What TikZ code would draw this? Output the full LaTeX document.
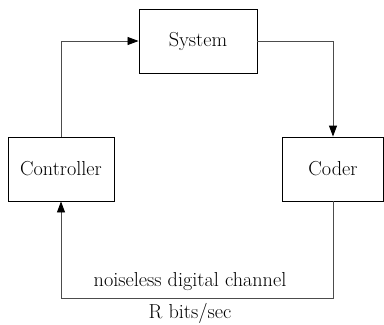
\documentclass[tikz,border=0pt]{standalone}
\usetikzlibrary{arrows.meta}
\begin{document}
\begin{tikzpicture}[x=1bp,y=-1bp,
  blk/.style={draw, line width=0.9bp, inner sep=0pt, font=\fontsize{20.3}{24}\selectfont},
  lbl/.style={font=\fontsize{20.3}{24}\selectfont, inner sep=0pt},
  conn/.style={line width=0.9bp, draw=black!70, -{Triangle[length=11bp,width=8bp,color=black]}}]
\useasboundingbox (0,0) rectangle (384,325);
\node[blk, minimum width=118bp, minimum height=64bp] (sys) at (198,41) {System};
\node[blk, minimum width=106bp, minimum height=64bp] (ctl) at (61,169) {Controller};
\node[blk, minimum width=101bp, minimum height=64bp] (cod) at (333,169) {Coder};
\coordinate (bl) at (61,298);
\draw[conn] (ctl.north) |- (sys.west);
\draw[conn] (sys.east) -| (cod.north);
\draw[conn] (cod.south) |- (bl) -- (ctl.south);
\node[lbl] (ch) at (190,282) {noiseless digital channel};
\node[lbl] (rate) at (190,313) {R bits/sec};
\end{tikzpicture}
\end{document}
